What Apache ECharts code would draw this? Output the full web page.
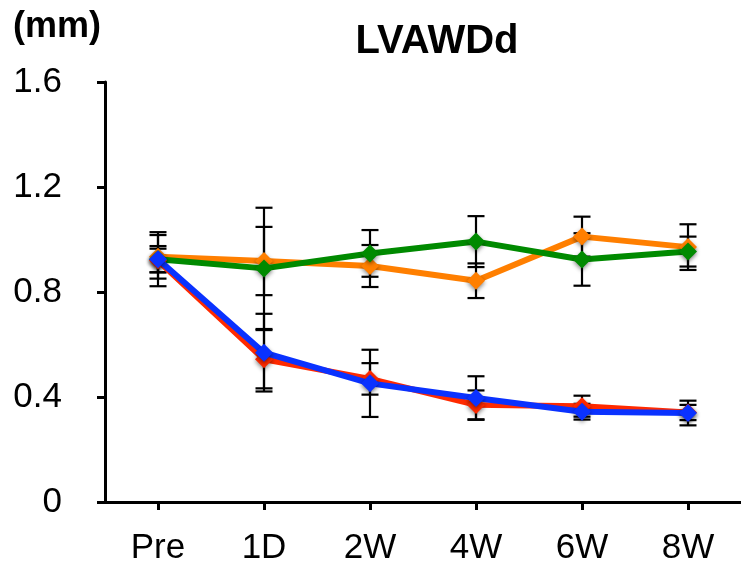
<!DOCTYPE html>
<html>
<head>
<meta charset="utf-8">
<script src="https://cdn.jsdelivr.net/npm/echarts@6/dist/echarts.min.js"></script>
<style>
html,body{margin:0;padding:0;background:#fff;}
#main{width:741px;height:568px;}
</style>
</head>
<body>
<div id="main"></div>
<script>
const categories = ['Pre', '1D', '2W', '4W', '6W', '8W'];
const yTicks = [0, 0.4, 0.8, 1.2, 1.6];

const orangeValues = [0.934, 0.918, 0.899, 0.843, 1.011, 0.971];
const orangeErrors = [0.083, 0.13, 0.08, 0.066, 0.076, 0.087];
const greenValues = [0.925, 0.89, 0.947, 0.992, 0.924, 0.954];
const greenErrors = [0.103, 0.231, 0.089, 0.097, 0.1, 0.057];
const redValues = [0.92, 0.544, 0.469, 0.37, 0.365, 0.341];
const redErrors = [0.045, 0.111, 0.06, 0.055, 0.04, 0.029];
const blueValues = [0.925, 0.569, 0.452, 0.396, 0.344, 0.339];
const blueErrors = [0.05, 0.148, 0.128, 0.083, 0.03, 0.047];

const groups = [
  {name: 'orange', color: '#FF7F00', values: orangeValues, errors: orangeErrors},
  {name: 'green', color: '#008A00', values: greenValues, errors: greenErrors},
  {name: 'red', color: '#FF2A00', values: redValues, errors: redErrors},
  {name: 'blue', color: '#0A32FF', values: blueValues, errors: blueErrors}
];

const FONT = 'Liberation Sans, Arial, sans-serif';

const errData = [];
groups.forEach(g => {
  g.values.forEach((v, i) => {
    errData.push([i, v - g.errors[i], v + g.errors[i]]);
  });
});

const chart = echarts.init(document.getElementById('main'), null, {renderer: 'canvas'});

const series = [{
  type: 'custom',
  name: 'errors',
  z: 1,
  data: errData,
  renderItem: function (params, api) {
    const x = api.value(0);
    const lo = api.coord([x, api.value(1)]);
    const hi = api.coord([x, api.value(2)]);
    const hw = 8.5;
    const st = {stroke: '#000', lineWidth: 2.2};
    return {
      type: 'group',
      children: [
        {type: 'line', shape: {x1: lo[0], y1: lo[1], x2: hi[0], y2: hi[1]}, style: st},
        {type: 'line', shape: {x1: lo[0] - hw, y1: lo[1], x2: lo[0] + hw, y2: lo[1]}, style: st},
        {type: 'line', shape: {x1: hi[0] - hw, y1: hi[1], x2: hi[0] + hw, y2: hi[1]}, style: st}
      ]
    };
  }
}];

groups.forEach((g, k) => {
  series.push({
    type: 'line',
    name: g.name,
    data: g.values,
    z: 2 + k,
    symbol: 'diamond',
    symbolSize: 18,
    showSymbol: true,
    lineStyle: {color: g.color, width: 6},
    itemStyle: {color: g.color, shadowBlur: 4, shadowColor: 'rgba(0,0,0,0.45)', shadowOffsetY: 2},
    emphasis: {disabled: true},
    animation: false
  });
});

chart.setOption({
  animation: false,
  backgroundColor: '#fff',
  title: [{
    text: 'LVAWDd',
    left: 432,
    textAlign: 'center',
    top: 17,
    textStyle: {fontFamily: FONT, fontSize: 40, fontWeight: 'bold', color: '#000'}
  }, {
    text: '(mm)',
    left: 8,
    top: 4,
    textStyle: {fontFamily: FONT, fontSize: 36, fontWeight: 'bold', color: '#000'}
  }],
  grid: {left: 105, right: -3, top: 82, bottom: 66, containLabel: false},
  xAxis: {
    type: 'category',
    data: categories,
    boundaryGap: true,
    axisLine: {lineStyle: {color: '#000', width: 3}},
    axisTick: {show: true, alignWithLabel: true, length: 8, lineStyle: {color: '#000', width: 3}},
    axisLabel: {color: '#000', fontFamily: FONT, fontSize: 35, margin: 29}
  },
  yAxis: {
    type: 'value',
    min: yTicks[0],
    max: yTicks[yTicks.length - 1],
    interval: 0.4,
    splitLine: {show: false},
    axisLine: {show: true, lineStyle: {color: '#000', width: 3}},
    axisTick: {show: true, length: 8, lineStyle: {color: '#000', width: 3}},
    axisLabel: {
      color: '#000', fontFamily: FONT, fontSize: 35, margin: 43,
      formatter: function (v) { return yTicks.indexOf(Math.round(v * 10) / 10) >= 0 ? String(Math.round(v * 10) / 10) : ''; }
    }
  },
  series: series
});
</script>
</body>
</html>
